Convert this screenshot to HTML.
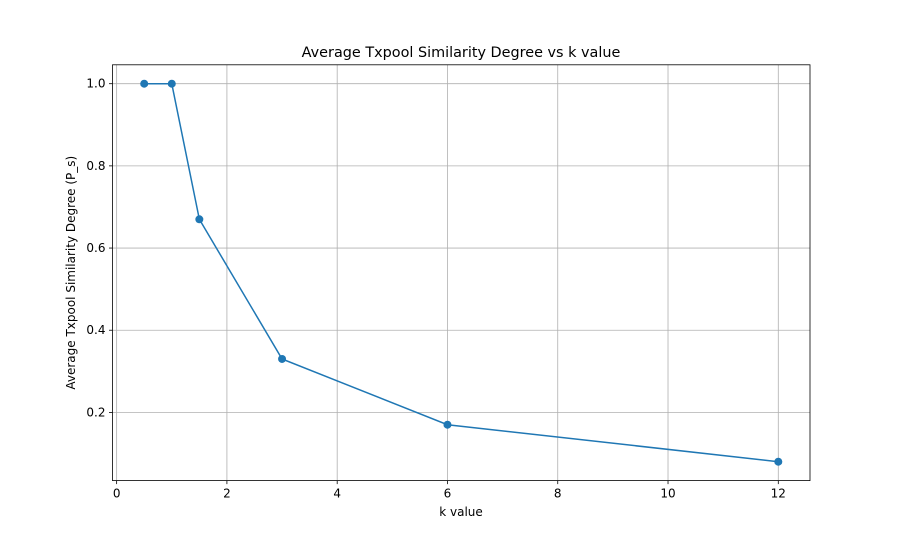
<!DOCTYPE html>
<html><head><meta charset="utf-8"><style>
body{margin:0;background:#fff}
svg text{font-family:"DejaVu Sans","Liberation Sans",sans-serif;fill:#000}
</style></head><body>
<svg width="900" height="540" viewBox="0 0 900 540" id="chart">
<rect width="900" height="540" fill="#fff"/>
<text x="461" y="57" font-size="14.4" text-anchor="middle">Average Txpool Similarity Degree vs k value</text>
<text x="461" y="516" font-size="12" text-anchor="middle">k value</text>
<text transform="translate(75,272.7) rotate(-90)" font-size="12" text-anchor="middle">Average Txpool Similarity Degree (P_s)</text>
<g id="grid"></g><g id="ticks"></g><g id="series"></g>
<rect x="112.5" y="64.8" width="697.5" height="415.8" fill="none" stroke="#000" stroke-width="0.8"/>
</svg>
<script>
const kValues=[0.5,1,1.5,3,6,12];
const similarity=[1.0,1.0,0.67,0.33,0.17,0.08];
const xTicks=[0,2,4,6,8,10,12];
const yTicks=[0.2,0.4,0.6,0.8,1.0];
const L=112.5,R=810,T=64.8,B=480.6;
const xmin=Math.min(...kValues),xmax=Math.max(...kValues),xm=(xmax-xmin)*0.05;
const ymin=Math.min(...similarity),ymax=Math.max(...similarity),ym=(ymax-ymin)*0.05;
const X=v=>L+(v-(xmin-xm))/((xmax+xm)-(xmin-xm))*(R-L);
const Y=v=>B-(v-(ymin-ym))/((ymax+ym)-(ymin-ym))*(B-T);
const NS="http://www.w3.org/2000/svg";
function mk(p,tag,a){const e=document.createElementNS(NS,tag);for(const k in a)e.setAttribute(k,a[k]);p.appendChild(e);return e;}
const grid=document.getElementById('grid'),ticks=document.getElementById('ticks'),series=document.getElementById('series');
xTicks.forEach(t=>{const x=X(t);
const g=mk(grid,'line',{x1:x,x2:x,y1:T,y2:B,stroke:'#b0b0b0','stroke-width':0.8});


const tk=mk(ticks,'line',{x1:x,x2:x,y1:B,y2:B+3.5,stroke:'#000','stroke-width':0.8});


const tx=mk(ticks,'text',{x:x,y:B+17,'font-size':12,'text-anchor':'middle'});tx.textContent=t;

});
yTicks.forEach(t=>{const y=Y(t);
const g=mk(grid,'line',{x1:L,x2:R,y1:y,y2:y,stroke:'#b0b0b0','stroke-width':0.8});


const tk=mk(ticks,'line',{x1:L-3.5,x2:L,y1:y,y2:y,stroke:'#000','stroke-width':0.8});


const tx=mk(ticks,'text',{x:L-7,y:y+4,'font-size':12,'text-anchor':'end'});tx.textContent=t.toFixed(1);

});
const pts=kValues.map((k,i)=>X(k)+','+Y(similarity[i])).join(' ');
const line=mk(series,'polyline',{points:pts,fill:'none',stroke:'#1f77b4','stroke-width':1.5});


kValues.forEach((k,i)=>{const c=mk(series,'circle',{cx:X(k),cy:Y(similarity[i]),r:4,fill:'#1f77b4'});

});
</script>
</body></html>
